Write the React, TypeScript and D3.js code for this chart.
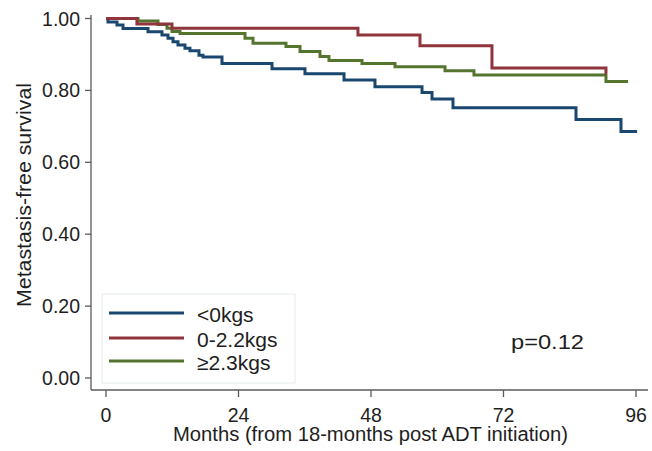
import React from "react";
import * as d3 from "d3";

const groups = ["<0kgs", "0-2.2kgs", "≥2.3kgs"];
const colors = ["#1a476f", "#90353b", "#55752f"];

const blueTimes = [0, 0.36, 1.99, 3.08, 7.61, 10.14, 11.23, 12.14, 13.04, 14.31, 15.21, 16.84, 17.57, 21.01, 30.07, 36.04, 43.11, 48.72, 57.24, 59.05, 62.85, 85.13, 93.28];
const blueSurv = [1.0, 0.99, 0.982, 0.972, 0.963, 0.954, 0.945, 0.935, 0.926, 0.917, 0.91, 0.898, 0.893, 0.875, 0.86, 0.846, 0.829, 0.81, 0.794, 0.776, 0.752, 0.719, 0.686];
const blueEnd = 96.2;

const redTimes = [0, 5.6, 11.95, 45.64, 56.87, 69.91, 90.56];
const redSurv = [1.0, 0.985, 0.973, 0.954, 0.924, 0.862, 0.848];
const redEnd = 90.75;

const greenTimes = [0, 5.8, 9.42, 11.05, 11.95, 13.4, 25.18, 26.63, 32.6, 35.14, 38.76, 40.39, 46.37, 52.35, 61.4, 66.65, 90.56];
const greenSurv = [1.0, 0.993, 0.983, 0.973, 0.964, 0.958, 0.945, 0.931, 0.922, 0.908, 0.894, 0.883, 0.875, 0.866, 0.855, 0.843, 0.825];
const greenEnd = 94.55;

const xTicks = [0, 24, 48, 72, 96];
const yTicks = [0, 0.2, 0.4, 0.6, 0.8, 1.0];

const xTitle = "Months (from 18-months post ADT initiation)";
const yTitle = "Metastasis-free survival";
const pText = "p=0.12";

function buildSeries(times: number[], surv: number[], end: number) {
  const pts = times.map((t, i) => [t, surv[i]] as [number, number]);
  pts.push([end, surv[surv.length - 1]]);
  return pts;
}

export default function App() {
  const W = 652, H = 451;
  const x = d3.scaleLinear().domain([0, 96]).range([106, 636]);
  const y = d3.scaleLinear().domain([0, 1]).range([378, 18.5]);
  const line = d3
    .line<[number, number]>()
    .x((d) => x(d[0]))
    .y((d) => y(d[1]))
    .curve(d3.curveStepAfter);

  const series = [
    buildSeries(blueTimes, blueSurv, blueEnd),
    buildSeries(redTimes, redSurv, redEnd),
    buildSeries(greenTimes, greenSurv, greenEnd),
  ];
  const drawOrder = [0, 2, 1];

  const axisColor = "#5a5a5a";
  const textColor = "#1e1e1e";
  const font = "Liberation Sans, Arial, sans-serif";
  const axX0 = 91, axY0 = 390, axXEnd = 648, axYTop = 15;

  const legendYs = [313, 338, 361];

  return (
    <svg
      width={W}
      height={H}
      style={{ position: "absolute", left: 0, top: 0, background: "#fff" }}
      fontFamily={font}
    >
      <rect x={0} y={0} width={W} height={H} fill="#fff" />
      <line x1={axX0} y1={axYTop} x2={axX0} y2={axY0} stroke={axisColor} strokeWidth={1.3} />
      <line x1={axX0} y1={axY0} x2={axXEnd} y2={axY0} stroke={axisColor} strokeWidth={1.3} />
      {yTicks.map((t) => (
        <g key={"y" + t}>
          <line x1={axX0 - 6} x2={axX0} y1={y(t)} y2={y(t)} stroke={axisColor} strokeWidth={1.3} />
          <text
            x={80}
            y={y(t)}
            textAnchor="end"
            dominantBaseline="central"
            fontSize={19.5}
            fill={textColor}
          >
            {t.toFixed(2)}
          </text>
        </g>
      ))}
      {xTicks.map((t) => (
        <g key={"x" + t}>
          <line x1={x(t)} x2={x(t)} y1={axY0} y2={axY0 + 7} stroke={axisColor} strokeWidth={1.3} />
          <text x={x(t)} y={422} textAnchor="middle" fontSize={19.5} fill={textColor}>
            {t}
          </text>
        </g>
      ))}
      <text
        x={370.5}
        y={441}
        textAnchor="middle"
        fontSize={20}
        fill={textColor}
        textLength={395}
        lengthAdjust="spacingAndGlyphs"
      >
        {xTitle}
      </text>
      <text
        transform="translate(31,195) rotate(-90)"
        textAnchor="middle"
        fontSize={20}
        fill={textColor}
        textLength={224}
        lengthAdjust="spacingAndGlyphs"
      >
        {yTitle}
      </text>

      {drawOrder.map((i) => (
        <path
          key={"s" + i}
          d={line(series[i]) || ""}
          fill="none"
          stroke={colors[i]}
          strokeWidth={3}
        />
      ))}

      <rect x={102} y={294} width={193} height={89} fill="#fff" stroke="#e4ecee" strokeWidth={1} />
      {groups.map((g, i) => (
        <g key={"l" + i}>
          <line x1={109} x2={184} y1={legendYs[i]} y2={legendYs[i]} stroke={colors[i]} strokeWidth={3} />
          <text x={197} y={legendYs[i] + 1} dominantBaseline="central" fontSize={21} fill={textColor}>
            {g}
          </text>
        </g>
      ))}

      <text x={511} y={349} fontSize={21} fill={textColor} textLength={73} lengthAdjust="spacingAndGlyphs">
        {pText}
      </text>
    </svg>
  );
}
